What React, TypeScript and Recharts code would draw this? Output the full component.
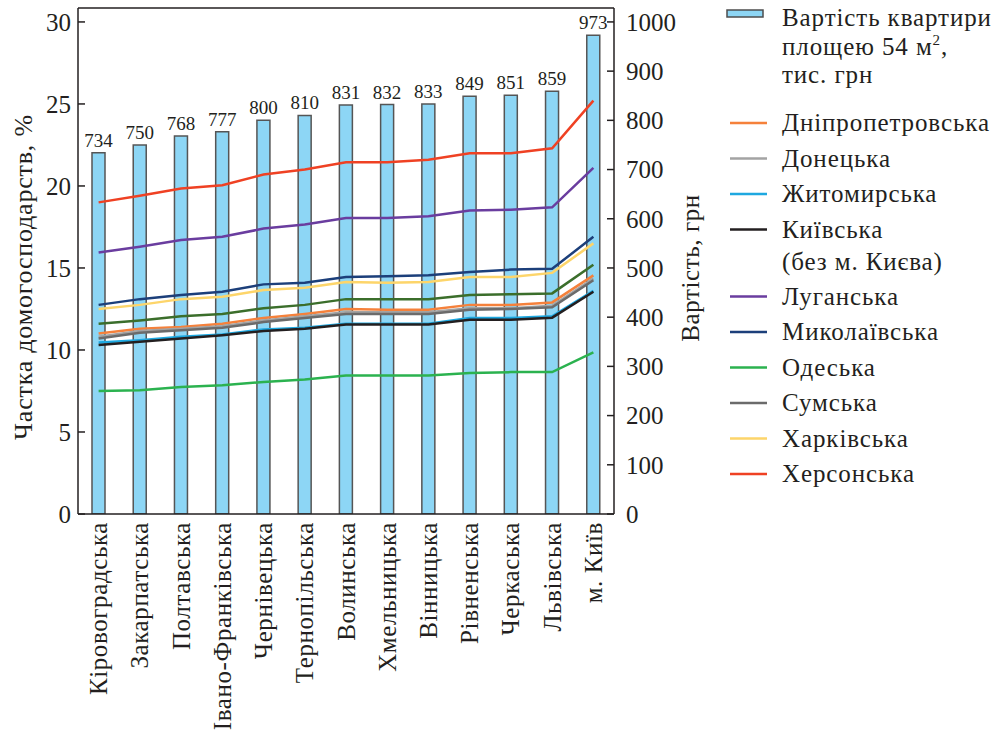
import React from "react";
import {
  ComposedChart,
  Bar,
  Line,
  XAxis,
  YAxis,
  LabelList,
  ReferenceLine,
} from "recharts";

const categories = [
  "Кіровоградська",
  "Закарпатська",
  "Полтавська",
  "Івано-Франківська",
  "Чернівецька",
  "Тернопільська",
  "Волинська",
  "Хмельницька",
  "Вінницька",
  "Рівненська",
  "Черкаська",
  "Львівська",
  "м. Київ",
];

const flatCost = [734, 750, 768, 777, 800, 810, 831, 832, 833, 849, 851, 859, 973];

const dnipro = [11.0, 11.3, 11.4, 11.6, 11.95, 12.2, 12.5, 12.45, 12.45, 12.75, 12.75, 12.9, 14.55];
const donetsk = [10.8, 11.15, 11.3, 11.45, 11.8, 12.05, 12.3, 12.3, 12.3, 12.55, 12.55, 12.7, 14.35];
const zhytomyr = [10.45, 10.6, 10.8, 10.95, 11.25, 11.35, 11.6, 11.6, 11.6, 11.95, 11.95, 12.05, 13.6];
const kyivObl = [10.3, 10.5, 10.7, 10.9, 11.15, 11.3, 11.55, 11.55, 11.55, 11.85, 11.85, 11.97, 13.55];
const luhansk = [15.95, 16.3, 16.7, 16.9, 17.4, 17.65, 18.05, 18.05, 18.15, 18.5, 18.55, 18.7, 21.1];
const mykolaiv = [12.75, 13.1, 13.35, 13.55, 14.0, 14.1, 14.45, 14.5, 14.55, 14.75, 14.9, 14.95, 16.9];
const odesa = [7.5, 7.55, 7.75, 7.85, 8.05, 8.2, 8.45, 8.45, 8.45, 8.6, 8.65, 8.65, 9.85];
const sumy = [10.7, 11.05, 11.2, 11.35, 11.7, 11.95, 12.2, 12.2, 12.2, 12.45, 12.5, 12.6, 14.25];
const kharkiv = [12.5, 12.75, 13.1, 13.25, 13.65, 13.8, 14.15, 14.1, 14.15, 14.45, 14.45, 14.7, 16.5];
const kherson = [19.0, 19.4, 19.85, 20.05, 20.7, 21.0, 21.45, 21.45, 21.6, 22.0, 22.0, 22.3, 25.2];
const unlisted = [11.6, 11.8, 12.05, 12.2, 12.55, 12.75, 13.1, 13.1, 13.1, 13.35, 13.4, 13.45, 15.2];

const leftTicks = [0, 5, 10, 15, 20, 25, 30];
const rightTicks = [0, 100, 200, 300, 400, 500, 600, 700, 800, 900, 1000];

const barLegend = ["Вартість квартири", "площею 54 м", "тис. грн"];

const series = [
  { key: "dnipro", name: "Дніпропетровська", values: dnipro, color: "#f5813b", legend: true },
  { key: "donetsk", name: "Донецька", values: donetsk, color: "#a3a3a3", legend: true },
  { key: "zhytomyr", name: "Житомирська", values: zhytomyr, color: "#1ea8e0", legend: true },
  { key: "kyivObl", name: "Київська|(без м. Києва)", values: kyivObl, color: "#231f20", legend: true },
  { key: "luhansk", name: "Луганська", values: luhansk, color: "#6a3d9f", legend: true },
  { key: "mykolaiv", name: "Миколаївська", values: mykolaiv, color: "#1c3f7a", legend: true },
  { key: "odesa", name: "Одеська", values: odesa, color: "#2bb24f", legend: true },
  { key: "sumy", name: "Сумська", values: sumy, color: "#6b6b6b", legend: true },
  { key: "kharkiv", name: "Харківська", values: kharkiv, color: "#fdd56a", legend: true },
  { key: "kherson", name: "Херсонська", values: kherson, color: "#ef4123", legend: true },
  { key: "unlisted", name: "", values: unlisted, color: "#3b6e2b", legend: false },
];

const data = categories.map((c, i) => {
  const row: Record<string, any> = { name: c, cost: flatCost[i] };
  series.forEach((s) => {
    row[s.key] = s.values[i];
  });
  return row;
});

const FONT = "'Liberation Serif', 'DejaVu Serif', serif";
const INK = "#231f20";

const XTick = (props: any) => {
  const { x, y, payload } = props;
  return (
    <text
      x={x}
      y={y}
      transform={`rotate(-90, ${x}, ${y})`}
      textAnchor="end"
      dominantBaseline="central"
      fontFamily={FONT}
      fontSize={25}
      letterSpacing={0.6}
      fill={INK}
    >
      {payload.value}
    </text>
  );
};

const Legend = () => {
  const lineRows: { y: number; text: string[]; color: string }[] = [];
  let y = 123;
  series
    .filter((s) => s.legend)
    .forEach((s) => {
      const parts = s.name.split("|");
      lineRows.push({ y, text: parts, color: s.color });
      y += parts.length > 1 ? 67 : 35.5;
    });
  return (
    <svg
      width={298}
      height={520}
      style={{ position: "absolute", left: 700, top: 0 }}
      fontFamily={FONT}
      letterSpacing={0.9}
    >
      <rect x={27} y={10} width={36} height={7} fill="#8dd6f5" stroke="#4d4d4d" strokeWidth={1.5} />
      <text x={82} y={26} fontSize={25} fill={INK}>{barLegend[0]}</text>
      <text x={82} y={55} fontSize={25} fill={INK}>
        {barLegend[1]}
        <tspan fontSize={15} dy={-10}>2</tspan>
        <tspan dy={10}>,</tspan>
      </text>
      <text x={82} y={83} fontSize={25} fill={INK}>{barLegend[2]}</text>
      {lineRows.map((r, i) => (
        <g key={i}>
          <line x1={30} x2={67} y1={r.y} y2={r.y} stroke={r.color} strokeWidth={2.5} />
          {r.text.map((t, j) => (
            <text key={j} x={82} y={r.y + 8 + j * 32} fontSize={25} fill={INK}>
              {t}
            </text>
          ))}
        </g>
      ))}
    </svg>
  );
};

export default function App() {
  return (
    <div style={{ position: "absolute", left: 0, top: 0, width: 998, height: 741, background: "#fff" }}>
      <ComposedChart
        width={998}
        height={741}
        data={data}
        margin={{ top: 8, right: 0, bottom: 0, left: 0 }}
      >
        <XAxis
          dataKey="name"
          interval={0}
          tickLine={false}
          tickSize={0}
          tickMargin={8}
          height={227}
          axisLine={{ stroke: INK, strokeWidth: 1.5 }}
          tick={<XTick />}
        />
        <YAxis
          yAxisId="left"
          orientation="left"
          width={78}
          domain={[0, 30.85]}
          ticks={leftTicks}
          allowDataOverflow
          tickSize={-7}
          tickMargin={14}
          axisLine={{ stroke: INK, strokeWidth: 1.5 }}
          tickLine={{ stroke: INK, strokeWidth: 1.5 }}
          tick={{ fontFamily: FONT, fontSize: 25, fill: INK }}
          label={() => (
            <text
              x={23}
              y={277}
              transform="rotate(-90, 23, 277)"
              textAnchor="middle"
              dominantBaseline="central"
              fontFamily={FONT}
              fontSize={26}
              letterSpacing={0.8}
              fill={INK}
            >
              Частка домогосподарств, %
            </text>
          )}
        />
        <YAxis
          yAxisId="right"
          orientation="right"
          width={384}
          domain={[0, 1028.3]}
          ticks={rightTicks}
          allowDataOverflow
          tickSize={-7}
          tickMargin={19}
          axisLine={{ stroke: INK, strokeWidth: 1.5 }}
          tickLine={{ stroke: INK, strokeWidth: 1.5 }}
          tick={{ fontFamily: FONT, fontSize: 25, fill: INK }}
          label={() => (
            <text
              x={690}
              y={268}
              transform="rotate(-90, 690, 268)"
              textAnchor="middle"
              dominantBaseline="central"
              fontFamily={FONT}
              fontSize={25}
              letterSpacing={0.6}
              fill={INK}
            >
              Вартість, грн
            </text>
          )}
        />
        <ReferenceLine yAxisId="left" y={30.85} stroke={INK} strokeWidth={1.5} />
        <Bar
          yAxisId="right"
          dataKey="cost"
          barSize={13}
          fill="#8dd6f5"
          stroke="#555555"
          strokeWidth={1.5}
          isAnimationActive={false}
        >
          <LabelList
            dataKey="cost"
            position="top"
            offset={6}
            fontFamily={FONT}
            fontSize={19}
            fill={INK}
          />
        </Bar>
        {series.map((s) => (
          <Line
            key={s.key}
            yAxisId="left"
            type="linear"
            dataKey={s.key}
            stroke={s.color}
            strokeWidth={2.5}
            dot={false}
            activeDot={false}
            isAnimationActive={false}
          />
        ))}
      </ComposedChart>
      <Legend />
    </div>
  );
}
